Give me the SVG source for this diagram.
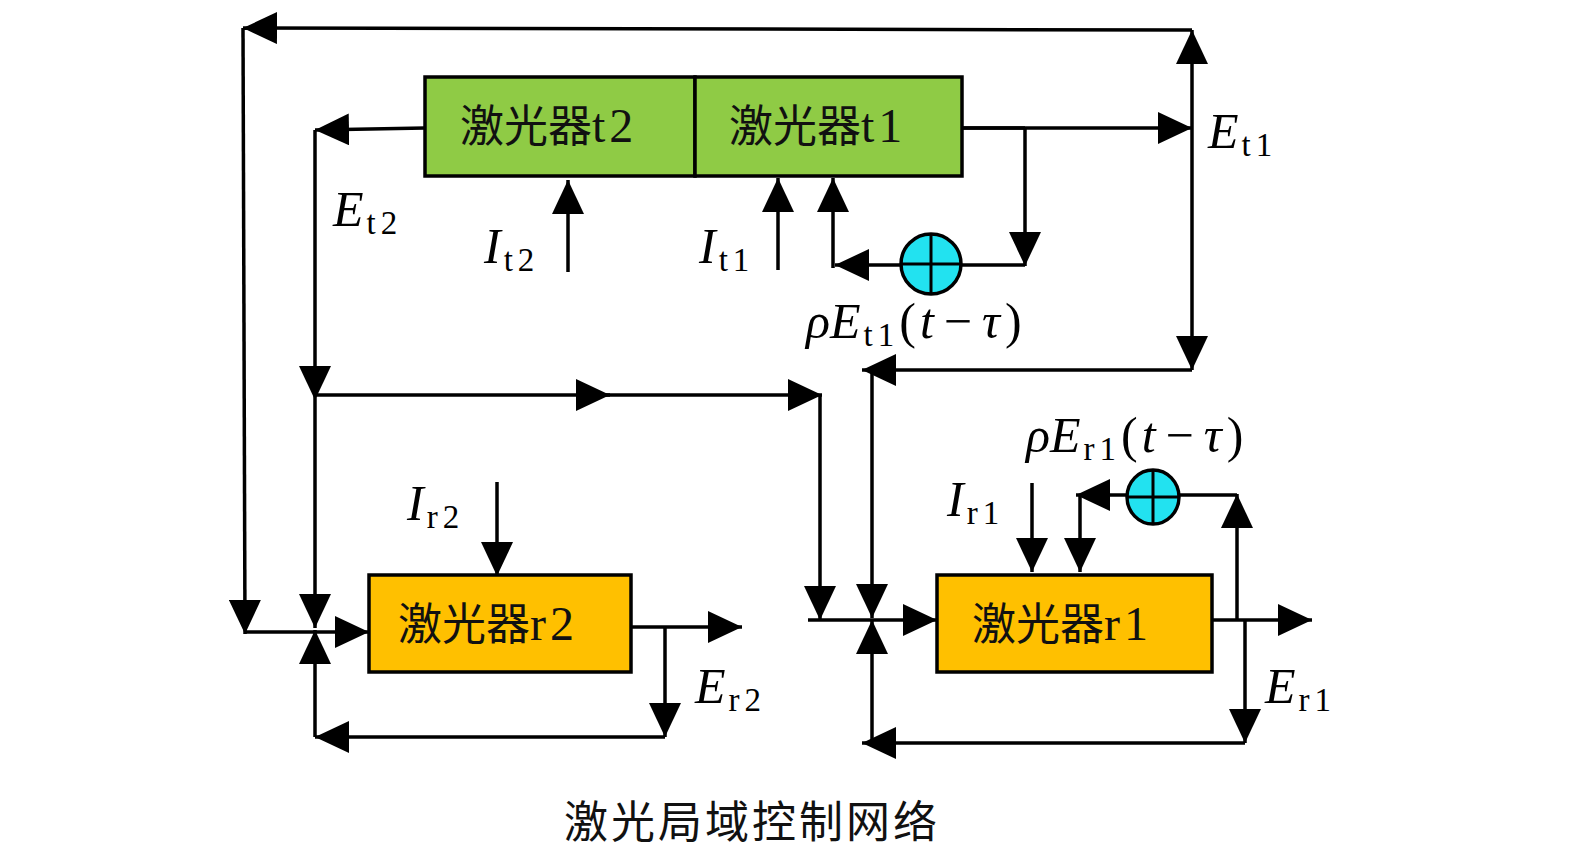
<svg xmlns="http://www.w3.org/2000/svg" width="1575" height="866" viewBox="0 0 1575 866">
<style>
.ln{fill:none;stroke:#000;stroke-width:3.5;marker-end:url(#ah)}
.pl{fill:none;stroke:#000;stroke-width:3.5}
.box{stroke:#000;stroke-width:3.5}
.cn{font-family:"Noto Sans CJK SC","Noto Sans CJK JP",sans-serif;font-size:44px;fill:#111}
.lat{font-family:"Liberation Serif","DejaVu Serif",serif;font-size:48px;letter-spacing:4px}
.m{font-family:"Liberation Serif","DejaVu Serif",serif;font-size:50px;fill:#000}
.i{font-style:italic}
.s{font-size:33px;letter-spacing:5px}
</style>
<defs>
<marker id="ah" viewBox="0 0 34 32" refX="34" refY="16" markerWidth="34" markerHeight="32" markerUnits="userSpaceOnUse" orient="auto">
<path d="M0,0 L34,16 L0,32 z" fill="#000"/>
</marker>
</defs>
<rect width="1575" height="866" fill="#fff"/>
<g id="connectors">
<path class="ln" d="M1192,30 L243,28"/>
<path class="ln" d="M243,28 L245,634"/>
<path class="ln" d="M1192,200 L1192,30"/>
<path class="ln" d="M1192,200 L1192,370"/>
<path class="ln" d="M962,128 L1192,128"/>
<path class="ln" d="M1192,370 L862,370"/>
<path class="ln" d="M872,370 L872,618"/>
<path class="ln" d="M425,128 L315,130"/>
<path class="ln" d="M315,130 L315,400"/>
<path class="ln" d="M315,400 L315,628"/>
<path class="ln" d="M315,395 L610,395"/>
<path class="ln" d="M605,395 L822,395"/>
<path class="ln" d="M820,395 L820,620"/>
<path class="ln" d="M568,272 L568,180"/>
<path class="ln" d="M778,270 L778,178"/>
<path class="ln" d="M833,268 L833,178"/>
<path class="pl" d="M962,128 L1025,128"/>
<path class="ln" d="M1025,128 L1025,266"/>
<path class="ln" d="M1025,265 L835,265"/>
<path class="ln" d="M245,632 L369,632"/>
<path class="ln" d="M315,737 L315,630"/>
<path class="ln" d="M665,737 L315,737"/>
<path class="ln" d="M631,627 L742,627"/>
<path class="ln" d="M665,627 L665,737"/>
<path class="ln" d="M497,482 L497,576"/>
<path class="ln" d="M808,620 L937,620"/>
<path class="ln" d="M872,743 L872,620"/>
<path class="ln" d="M1245,743 L862,743"/>
<path class="ln" d="M1212,620 L1312,620"/>
<path class="ln" d="M1245,620 L1245,743"/>
<path class="ln" d="M1237,620 L1237,494"/>
<path class="ln" d="M1237,495 L1076,495"/>
<path class="ln" d="M1080,495 L1080,572"/>
<path class="ln" d="M1032,483 L1032,572"/>
</g>
<g id="laser-t2">
<rect class="box" x="425" y="77" width="270" height="99" fill="#8FCB45"/>
<text class="cn" x="460" y="142">激光器<tspan class="lat">t2</tspan></text>
</g>
<g id="laser-t1">
<rect class="box" x="695" y="77" width="267" height="99" fill="#8FCB45"/>
<text class="cn" x="729" y="142">激光器<tspan class="lat">t1</tspan></text>
</g>
<g id="sum-t">
<ellipse cx="931" cy="264" rx="30" ry="30" fill="#22E2F0" stroke="#000" stroke-width="3.5"/>
<path d="M901,264 H961 M931,234 V294" stroke="#000" stroke-width="3"/>
</g>
<g id="laser-r2">
<rect class="box" x="369" y="575" width="262" height="97" fill="#FFC000"/>
<text class="cn" x="398" y="640">激光器<tspan class="lat">r2</tspan></text>
</g>
<g id="laser-r1">
<rect class="box" x="937" y="575" width="275" height="97" fill="#FFC000"/>
<text class="cn" x="972" y="640">激光器<tspan class="lat">r1</tspan></text>
</g>
<g id="sum-r">
<ellipse cx="1153" cy="497" rx="26" ry="27" fill="#22E2F0" stroke="#000" stroke-width="3.5"/>
<path d="M1127,497 H1179 M1153,470 V524" stroke="#000" stroke-width="3"/>
</g>
<g id="labels">
<text class="m" x="1208" y="148"><tspan class="i">E</tspan><tspan class="s" dx="3" dy="8">t1</tspan></text>
<text class="m" x="333" y="226"><tspan class="i">E</tspan><tspan class="s" dx="3" dy="8">t2</tspan></text>
<text class="m" x="484" y="263"><tspan class="i">I</tspan><tspan class="s" dx="3" dy="8">t2</tspan></text>
<text class="m" x="699" y="263"><tspan class="i">I</tspan><tspan class="s" dx="3" dy="8">t1</tspan></text>
<text class="m" x="806" y="338"><tspan class="i">ρE</tspan><tspan class="s" dx="3" dy="8">t1</tspan><tspan dy="-8">(</tspan><tspan class="i" dx="4">t</tspan><tspan dx="10">−</tspan><tspan class="i" dx="10">τ</tspan><tspan dx="5">)</tspan></text>
<text class="m" x="407" y="520"><tspan class="i">I</tspan><tspan class="s" dx="3" dy="8">r2</tspan></text>
<text class="m" x="695" y="703"><tspan class="i">E</tspan><tspan class="s" dx="3" dy="8">r2</tspan></text>
<text class="m" x="947" y="516"><tspan class="i">I</tspan><tspan class="s" dx="3" dy="8">r1</tspan></text>
<text class="m" x="1026" y="452"><tspan class="i">ρE</tspan><tspan class="s" dx="3" dy="8">r1</tspan><tspan dy="-8">(</tspan><tspan class="i" dx="4">t</tspan><tspan dx="10">−</tspan><tspan class="i" dx="10">τ</tspan><tspan dx="5">)</tspan></text>
<text class="m" x="1265" y="703"><tspan class="i">E</tspan><tspan class="s" dx="3" dy="8">r1</tspan></text>
</g>
<text class="cn" x="752" y="838" text-anchor="middle" font-size="47" letter-spacing="3">激光局域控制网络</text>
</svg>
